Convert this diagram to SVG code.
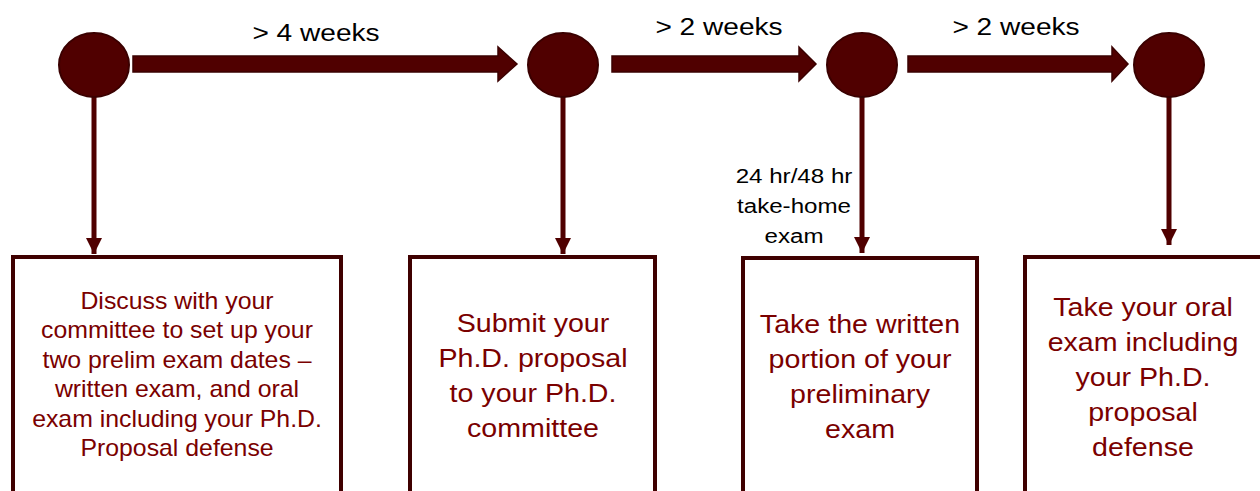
<svg xmlns="http://www.w3.org/2000/svg" width="1260" height="491" viewBox="0 0 1260 491">
<style>
.dot{fill:#500000;stroke:#3a0000;stroke-width:2}
.big{fill:#500000;stroke:#3a0000;stroke-width:1.5}
.box{fill:#ffffff;stroke:#3f0000;stroke-width:4}
.vl{stroke:#500000;stroke-width:5;fill:none}
.txt{font-family:"Liberation Sans",Arial,sans-serif;fill:#7a0000;text-anchor:middle}
.lbl{font-family:"Liberation Sans",Arial,sans-serif;fill:#000000;text-anchor:middle}
</style>
<defs>
<marker id="ah" viewBox="0 0 17 16" refX="16" refY="8" markerWidth="17" markerHeight="16" markerUnits="userSpaceOnUse" orient="auto">
<path d="M0,0 L16,8 L0,16 Z" fill="#500000"/>
</marker>
</defs>
<rect width="1260" height="491" fill="#ffffff"/>
<g id="connectors">
<polygon class="big" points="133,56 498,56 498,47 517,64 498,81 498,72 133,72"/>
<polygon class="big" points="612,56 799,56 799,47 816,64 799,81 799,72 612,72"/>
<polygon class="big" points="908,56 1112,56 1112,47 1128,64 1112,81 1112,72 908,72"/>
<line class="vl" x1="94" y1="96" x2="94" y2="254" marker-end="url(#ah)"/>
<line class="vl" x1="563" y1="96" x2="563" y2="254" marker-end="url(#ah)"/>
<line class="vl" x1="862" y1="96" x2="862" y2="253" marker-end="url(#ah)"/>
<line class="vl" x1="1169" y1="96" x2="1169" y2="245" marker-end="url(#ah)"/>
<g transform="translate(316,41) scale(1.17,1)"><text class="lbl" x="0" y="0" font-size="24">&gt; 4 weeks</text></g>
<g transform="translate(719,35) scale(1.17,1)"><text class="lbl" x="0" y="0" font-size="24">&gt; 2 weeks</text></g>
<g transform="translate(1016,35) scale(1.17,1)"><text class="lbl" x="0" y="0" font-size="24">&gt; 2 weeks</text></g>
<g transform="translate(794,0) scale(1.15,1)"><text class="lbl" font-size="21"><tspan x="0" y="183">24 hr/48 hr</tspan><tspan x="0" y="213">take-home</tspan><tspan x="0" y="243">exam</tspan></text></g>
</g>
<g id="n1"><ellipse class="dot" cx="94" cy="65" rx="35" ry="32"/></g>
<g id="n2"><ellipse class="dot" cx="563" cy="65" rx="35" ry="32"/></g>
<g id="n3"><ellipse class="dot" cx="862" cy="65" rx="35" ry="32"/></g>
<g id="n4"><ellipse class="dot" cx="1169" cy="65" rx="35" ry="32"/></g>
<g id="box1">
<rect class="box" x="13" y="257" width="328" height="250"/>
<g transform="translate(177,0) scale(1.08,1)"><text class="txt" font-size="23"><tspan x="0" y="309">Discuss with your</tspan><tspan x="0" y="338.5">committee to set up your</tspan><tspan x="0" y="368">two prelim exam dates –</tspan><tspan x="0" y="397.5">written exam, and oral</tspan><tspan x="0" y="427">exam including your Ph.D.</tspan><tspan x="0" y="456.5">Proposal defense</tspan></text></g>
</g>
<g id="box2">
<rect class="box" x="410" y="257" width="245" height="250"/>
<g transform="translate(533,0) scale(1.1,1)"><text class="txt" font-size="26"><tspan x="0" y="332">Submit your</tspan><tspan x="0" y="367">Ph.D. proposal</tspan><tspan x="0" y="402">to your Ph.D.</tspan><tspan x="0" y="437">committee</tspan></text></g>
</g>
<g id="box3">
<rect class="box" x="743" y="258" width="234" height="250"/>
<g transform="translate(860,0) scale(1.1,1)"><text class="txt" font-size="26"><tspan x="0" y="333">Take the written</tspan><tspan x="0" y="368">portion of your</tspan><tspan x="0" y="403">preliminary</tspan><tspan x="0" y="438">exam</tspan></text></g>
</g>
<g id="box4">
<rect class="box" x="1025" y="257" width="240" height="250"/>
<g transform="translate(1143,0) scale(1.1,1)"><text class="txt" font-size="26"><tspan x="0" y="316">Take your oral</tspan><tspan x="0" y="351">exam including</tspan><tspan x="0" y="386">your Ph.D.</tspan><tspan x="0" y="421">proposal</tspan><tspan x="0" y="456">defense</tspan></text></g>
</g>
</svg>
